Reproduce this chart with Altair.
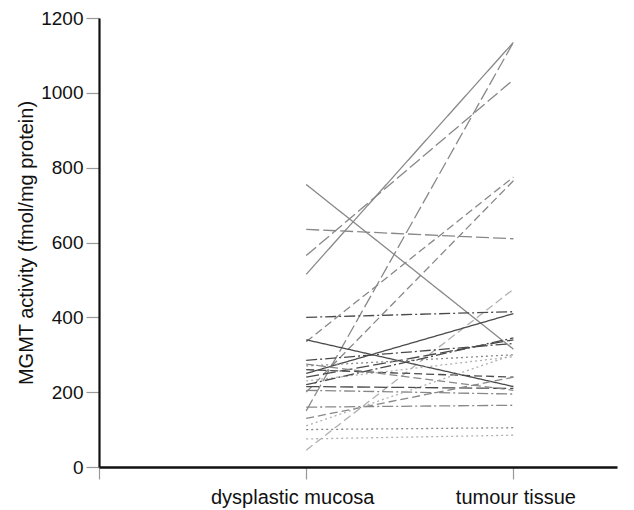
import altair as alt
import pandas as pd

# Paired MGMT activity values (fmol/mg protein)
dysplastic = [755, 515, 565, 150, 635, 335, 200, 45, 400, 340, 250, 240, 285, 270, 260, 230, 215, 205, 160, 130, 110, 100, 75, 275, 220]
tumour     = [315, 1135, 1035, 1135, 610, 775, 765, 475, 415, 215, 410, 340, 330, 300, 240, 295, 210, 195, 165, 240, 300, 105, 85, 205, 345]
styles     = ["solid", "solid", "longdash", "longdash", "longdash", "dash", "dash", "dash", "dashdot", "solid",
              "solid", "longdash", "dashdot", "dot", "dash", "dot", "longdash", "dashdot", "dashdot", "dash",
              "dot", "dot", "dot", "dash", "dashdot"]
shades     = ["mid", "mid", "mid", "mid", "mid", "mid", "mid", "light", "dark", "dark",
              "dark", "dark", "dark", "mid", "dark", "light", "dark", "mid", "mid", "mid",
              "light", "mid", "light", "mid", "dark"]
categories = ["dysplastic mucosa", "tumour tissue"]

rows = []
for i, (a, b, s, c) in enumerate(zip(dysplastic, tumour, styles, shades)):
    rows.append({"id": i, "pos": 1, "value": a, "style": s, "shade": c})
    rows.append({"id": i, "pos": 2, "value": b, "style": s, "shade": c})
df = pd.DataFrame(rows)

style_domain = ["solid", "dash", "longdash", "dashdot", "dot"]
style_range = [[1, 0], [8, 4], [13, 4], [11, 3, 2, 3], [2, 3]]
shade_domain = ["dark", "mid", "light"]
shade_range = ["#4a4a4a", "#888888", "#b0b0b0"]

label_expr = f"datum.value == 1 ? '{categories[0]}' : datum.value == 2 ? '{categories[1]}' : ''"

chart = alt.Chart(df).mark_line(strokeWidth=1.3).encode(
    x=alt.X("pos:Q",
            scale=alt.Scale(domain=[0, 2.5], nice=False, zero=False),
            axis=alt.Axis(values=[0, 1, 2], labelExpr=label_expr, grid=False, title=None,
                          domainColor="#111", domainWidth=2.5, tickColor="#999", tickSize=12,
                          tickWidth=1.2, labelFontSize=20, labelColor="#111", labelPadding=8,
                          labelOffset={"condition": {"test": "datum.value == 1", "value": -14}, "value": 2},
                          labelFont="Liberation Sans")),
    y=alt.Y("value:Q",
            scale=alt.Scale(domain=[0, 1200], nice=False),
            axis=alt.Axis(values=[0, 200, 400, 600, 800, 1000, 1200], grid=False, format="d",
                          title="MGMT activity (fmol/mg protein)", titleFontSize=20,
                          titleFont="Liberation Sans", titleFontWeight="normal", titleColor="#111",
                          titlePadding=4,
                          domainColor="#111", domainWidth=2.2, tickColor="#999", tickSize=13,
                          tickWidth=1.2, labelFontSize=19, labelColor="#111", labelPadding=3,
                          labelFont="Liberation Sans")),
    detail="id:N",
    strokeDash=alt.StrokeDash("style:N", scale=alt.Scale(domain=style_domain, range=style_range), legend=None),
    color=alt.Color("shade:N", scale=alt.Scale(domain=shade_domain, range=shade_range), legend=None),
).properties(
    width=518, height=449,
    padding={"left": 8, "top": 1, "right": 2, "bottom": 5},
).configure_view(stroke=None)

chart.save("out.html", embed_options={"renderer": "svg", "actions": False})
